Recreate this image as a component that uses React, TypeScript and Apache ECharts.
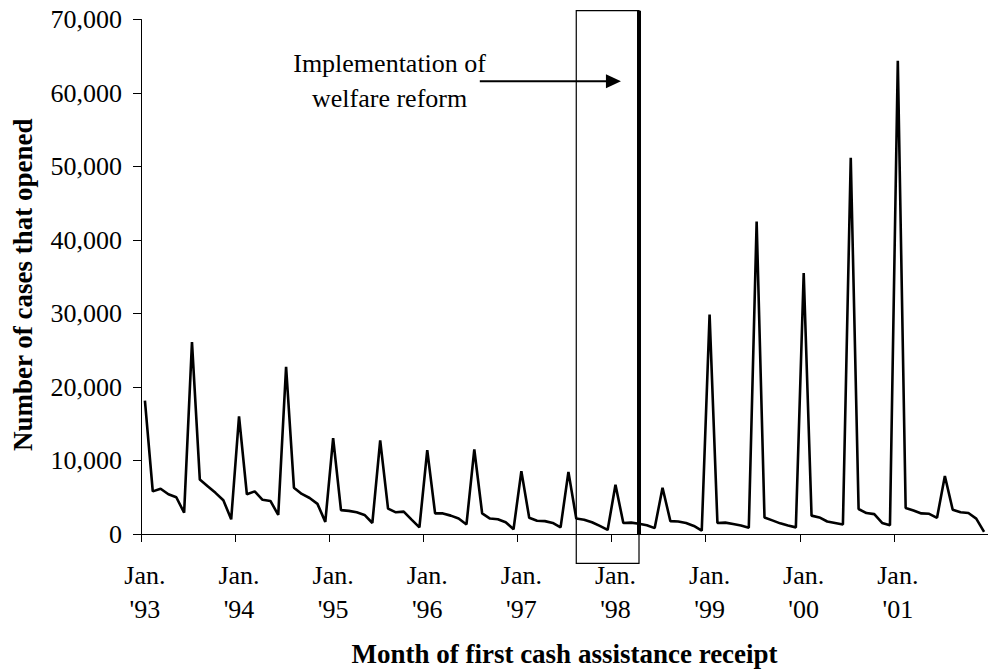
import React, { useEffect, useRef } from 'react';
import * as echarts from 'echarts';

// ---------- data ----------
const yearLabels = ["'93", "'94", "'95", "'96", "'97", "'98", "'99", "'00", "'01"];
const monthNames = ['Jan.', 'Feb.', 'Mar.', 'Apr.', 'May', 'Jun.', 'Jul.', 'Aug.', 'Sep.', 'Oct.', 'Nov.', 'Dec.'];

const cases1993 = [18150, 5800, 6150, 5400, 5000, 2900, 26100, 7400, 6500, 5600, 4600, 2000];
const cases1994 = [16000, 5400, 5800, 4650, 4500, 2600, 22750, 6300, 5450, 4900, 4100, 1650];
const cases1995 = [13050, 3250, 3150, 2950, 2600, 1500, 12750, 3450, 2950, 3050, 1950, 900];
const cases1996 = [11400, 2800, 2800, 2500, 2100, 1300, 11500, 2800, 2100, 2000, 1600, 650];
const cases1997 = [8550, 2200, 1800, 1750, 1500, 900, 8450, 2100, 1950, 1600, 1100, 550];
const cases1998 = [6700, 1500, 1550, 1400, 1200, 800, 6300, 1750, 1700, 1500, 1100, 450];
const cases1999 = [29850, 1500, 1550, 1350, 1150, 850, 42500, 2250, 1850, 1450, 1150, 900];
const cases2000 = [35500, 2500, 2250, 1700, 1500, 1300, 51200, 3400, 2850, 2700, 1500, 1200];
const cases2001 = [64400, 3550, 3200, 2800, 2750, 2200, 7900, 3300, 2950, 2850, 2100, 300];

const yMin = 0;
const yMax = 70000;
const yInterval = 10000;

const annotationLines = ['Implementation of', 'welfare reform'];
// annotation anchors in data space (category index, value)
const windowStartIdx = 55; // Aug. '97
const windowEndIdx = 63; // Apr. '98 (implementation)
const windowTop = 71200;
const windowBottom = -4000;
const arrowFrom = 42.7;
const arrowTo = 60.7;
const arrowValue = 61600;
const textCenterIdx = 31.2;
const textValues = [64000, 59300];

const allCases = [
  ...cases1993, ...cases1994, ...cases1995, ...cases1996, ...cases1997,
  ...cases1998, ...cases1999, ...cases2000, ...cases2001,
];
const categories: string[] = [];
yearLabels.forEach((y) => monthNames.forEach((m) => categories.push(m + ' ' + y)));

const FONT = 'Liberation Serif';

export default function App() {
  const ref = useRef<HTMLDivElement>(null);
  useEffect(() => {
    if (!ref.current) return;
    const chart = echarts.init(ref.current, null, { renderer: 'svg' });
    const isJan = (i: number) => i % 12 === 0;
    chart.setOption({
      animation: false,
      backgroundColor: '#fff',
      textStyle: { fontFamily: FONT, color: '#000' },
      grid: { left: 141, right: -8, top: 19.5, bottom: 135, containLabel: false },
      xAxis: {
        type: 'category',
        data: categories,
        boundaryGap: true,
        name: 'Month of first cash assistance receipt',
        nameLocation: 'middle',
        nameGap: 106,
        nameTextStyle: { fontFamily: FONT, fontSize: 27, fontWeight: 'bold', color: '#000' },
        axisLine: { lineStyle: { color: '#000', width: 1 } },
        axisTick: { show: true, inside: false, length: 8, interval: (i: number) => isJan(i), lineStyle: { color: '#000' } },
        axisLabel: {
          interval: (i: number) => isJan(i),
          formatter: (v: string) => {
            const parts = v.split(' ');
            return parts[0] + '\n' + parts[1];
          },
          fontFamily: FONT,
          fontSize: 26,
          lineHeight: 34,
          color: '#000',
          margin: 24,
        },
        splitLine: { show: false },
      },
      yAxis: {
        type: 'value',
        min: yMin,
        max: yMax,
        interval: yInterval,
        name: 'Number of cases that opened',
        nameLocation: 'middle',
        nameGap: 105,
        nameTextStyle: { fontFamily: FONT, fontSize: 27, fontWeight: 'bold', color: '#000', padding: [0, 16, 0, 0] },
        axisLine: { show: true, lineStyle: { color: '#000', width: 1 } },
        axisTick: { show: true, inside: false, length: 8, lineStyle: { color: '#000' } },
        axisLabel: {
          formatter: (v: number) => v.toLocaleString('en-US'),
          fontFamily: FONT,
          fontSize: 26,
          color: '#000',
          margin: 19,
        },
        splitLine: { show: false },
      },
      series: [
        {
          type: 'line',
          data: allCases,
          symbol: 'none',
          lineStyle: { color: '#000', width: 2.6 },
          itemStyle: { color: '#000' },
        },
      ],
    });

    const a = chart.convertToPixel({ seriesIndex: 0 }, [0, 0]) as number[];
    const b = chart.convertToPixel({ seriesIndex: 0 }, [1, 10000]) as number[];
    const dx = b[0] - a[0];
    const dy = (a[1] - b[1]) / 10000;
    const px = (c: number, v: number) => [a[0] + c * dx, a[1] - v * dy];

    const tl = px(windowStartIdx, windowTop);
    const br = px(windowEndIdx, windowBottom);
    const thickTop = px(windowEndIdx, windowTop);
    const thickBottom = px(windowEndIdx, 0);
    const arrS = px(arrowFrom, arrowValue);
    const arrT = px(arrowTo, arrowValue);
    const headLen = 15;
    const headHalf = 7;

    chart.setOption({
      graphic: [
        {
          type: 'rect',
          z: 100,
          silent: true,
          shape: { x: tl[0], y: tl[1], width: br[0] - tl[0], height: br[1] - tl[1] },
          style: { fill: 'none', stroke: '#000', lineWidth: 1.2 },
        },
        {
          type: 'line',
          z: 101,
          silent: true,
          shape: { x1: thickTop[0], y1: thickTop[1], x2: thickBottom[0], y2: thickBottom[1] },
          style: { stroke: '#000', lineWidth: 4 },
        },
        {
          type: 'line',
          z: 101,
          silent: true,
          shape: { x1: arrS[0], y1: arrS[1], x2: arrT[0] - headLen + 1, y2: arrT[1] },
          style: { stroke: '#000', lineWidth: 2.2 },
        },
        {
          type: 'polygon',
          z: 101,
          silent: true,
          shape: {
            points: [
              [arrT[0], arrT[1]],
              [arrT[0] - headLen, arrT[1] - headHalf],
              [arrT[0] - headLen, arrT[1] + headHalf],
            ],
          },
          style: { fill: '#000' },
        },
        ...annotationLines.map((t, i) => {
          const p = px(textCenterIdx, textValues[i]);
          return {
            type: 'text',
            z: 101,
            silent: true,
            x: p[0],
            y: p[1],
            style: {
              text: t,
              font: '26px "Liberation Serif"',
              fill: '#000',
              align: 'center',
              verticalAlign: 'middle',
            },
          };
        }),
      ],
    });

    return () => chart.dispose();
  }, []);

  return (
    <div
      ref={ref}
      style={{ position: 'absolute', left: 0, top: 0, width: 988, height: 672, overflow: 'hidden' }}
    />
  );
}
